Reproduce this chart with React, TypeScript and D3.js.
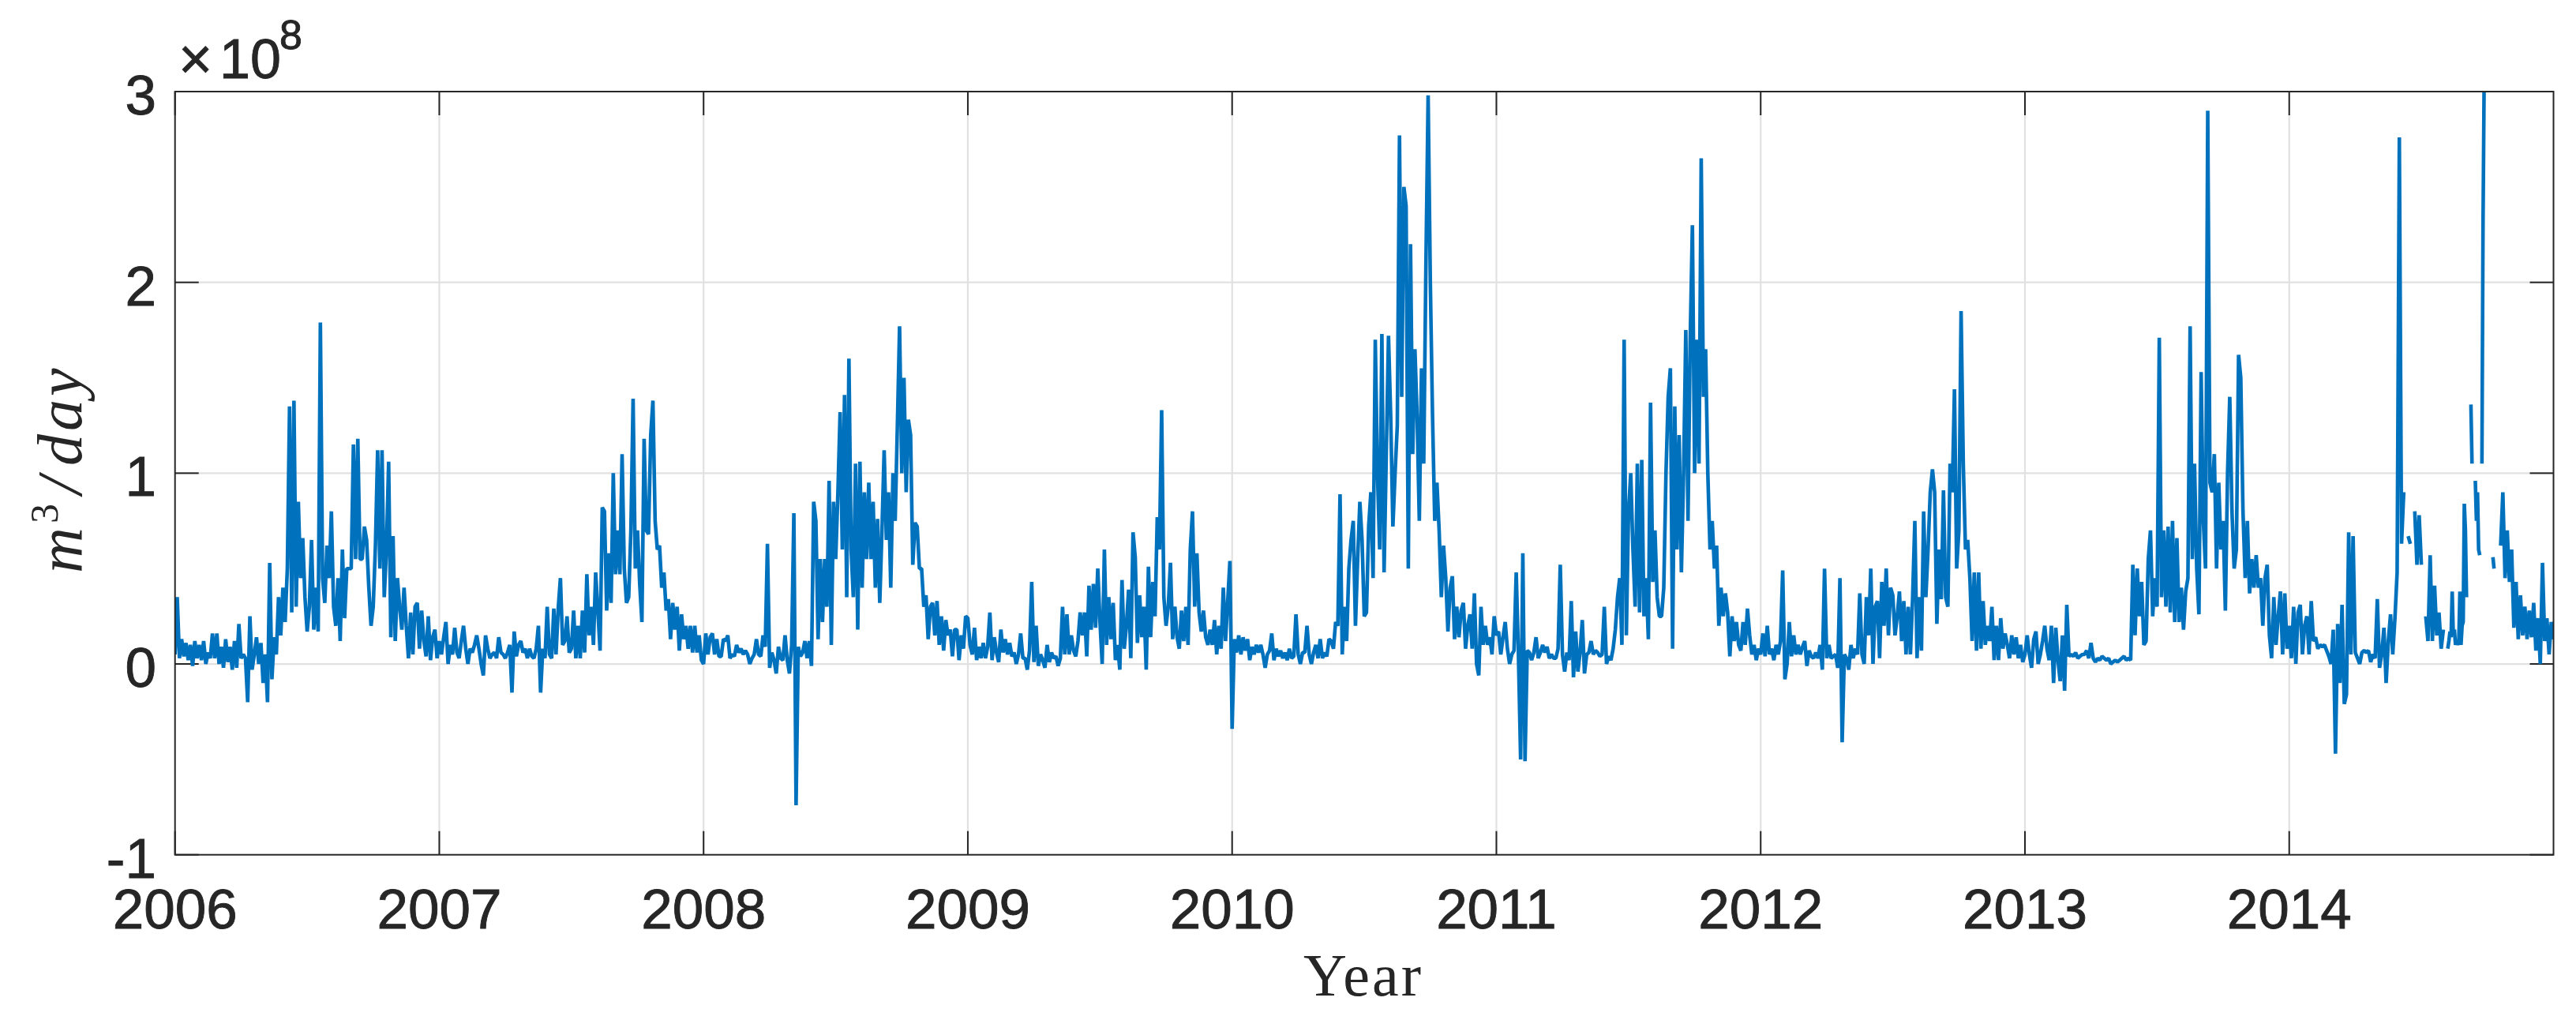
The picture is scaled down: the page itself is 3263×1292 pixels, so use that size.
import React from "react";
import * as d3 from "d3";

const yearTicks = [2006, 2007, 2008, 2009, 2010, 2011, 2012, 2013, 2014];
const valueTicks = [-1, 0, 1, 2, 3];

// Flow in units of 1e6 m^3/day at ~3 day spacing. null = gap.
const flow2006 = [
  5,35,3,13,4,11,2,10,-1,12,
  3,10,2,12,0,6,3,16,3,16,
  0,9,-2,13,1,9,-3,12,-2,21,
  3,5,3,-20,25,-3,5,14,0,11,
  -10,5,-20,53,-8,14,5,35,15,40,
  22,50,135,27,138,30,85,45,66,35,
  17,30,65,18,40,17,179,45,32,62,
  45,80,30,20,45,12,60,24,50,50,
  50,115,55,118,55,55,72,65,40,20,
  30,62,112,50,112,35,60,106,14,67,
  12,45,30,18,40,20,3,27,5,30,
  32,8,28,12,4,25,2,14,18,3,
];
const flow2007 = [
  12,5,14,22,0,10,5,19,6,3,
  12,20,8,0,8,6,10,15,8,0,
  -6,15,8,3,5,6,3,14,6,5,
  3,6,10,-15,17,4,10,12,6,8,
  3,8,4,3,8,20,-15,8,3,30,
  5,3,29,5,29,45,10,12,25,6,
  8,28,3,20,3,28,6,47,15,30,
  10,48,28,7,82,80,28,58,32,100,
  47,70,47,110,50,32,35,70,139,50,
  70,42,22,118,70,68,120,138,75,60,
  62,40,48,28,34,13,32,18,30,7,
  26,13,20,8,20,6,20,6,15,2,
];
const flow2008 = [
  0,16,5,14,16,5,13,4,4,13,
  12,15,3,5,4,10,6,8,5,7,
  5,0,3,5,13,5,4,15,9,63,
  -2,6,2,-5,9,3,2,15,2,-5,
  10,79,-74,9,4,6,12,3,12,-1,
  85,75,13,55,22,55,30,96,10,85,
  55,90,132,60,141,35,160,60,35,105,
  18,106,40,90,55,95,55,85,40,76,
  32,70,112,65,90,40,100,75,125,177,
  100,150,90,128,120,52,74,72,50,50,
  30,36,13,30,32,15,33,10,25,7,
  23,15,18,4,18,18,2,15,8,25,
];
const flow2009 = [
  24,10,5,19,2,9,3,11,3,9,
  27,2,14,6,1,18,6,13,5,11,
  4,6,0,5,16,3,3,-3,7,43,
  1,20,-1,5,2,-2,10,1,6,3,
  4,-1,3,30,5,26,5,15,7,4,
  12,27,15,27,4,41,18,42,19,50,
  22,0,60,10,35,13,32,2,10,-3,
  44,8,20,39,3,69,56,11,36,14,
  30,-3,51,14,43,25,77,60,133,35,
  20,30,53,13,30,14,8,28,12,30,
  10,60,80,30,58,27,17,28,14,10,
  18,10,23,5,20,8,40,12,33,54,
];
const flow2010 = [
  -34,13,6,15,5,14,7,13,2,9,
  5,10,6,10,5,-2,5,7,16,2,
  8,4,7,3,6,2,8,3,4,26,
  5,0,6,6,20,5,0,6,10,3,
  13,3,6,4,13,12,8,22,20,89,
  5,30,12,50,65,75,20,55,85,65,
  25,27,72,90,45,170,100,60,173,48,
  110,172,130,72,100,125,277,140,250,240,
  50,220,110,165,130,75,155,105,210,298,
  200,130,75,95,70,35,62,45,17,40,
  46,13,30,14,28,32,8,20,26,8,
  37,0,-6,30,10,20,10,14,5,25,
];
const flow2011 = [
  15,17,5,14,22,8,0,5,7,48,
  5,-50,58,-51,7,6,2,6,14,3,
  6,10,6,9,3,5,3,3,8,52,
  5,-4,6,2,33,-7,17,-4,6,23,
  -5,5,6,12,5,7,6,4,5,30,
  0,4,2,8,18,35,45,10,170,15,
  80,100,60,30,105,27,107,25,45,13,
  137,43,70,35,25,25,40,100,140,155,
  8,135,60,120,48,100,175,75,170,230,
  100,170,105,265,140,165,100,60,75,50,
  62,20,40,25,37,27,4,25,12,22,
  10,7,22,10,29,15,5,10,2,8,
];
const flow2012 = [
  5,16,4,20,5,8,2,10,5,12,
  49,-8,0,22,4,15,5,10,5,9,
  12,-1,7,4,3,6,3,10,-3,50,
  3,10,3,4,5,-2,45,-41,5,3,
  -3,10,3,8,5,37,5,0,35,15,
  50,0,30,33,3,43,20,50,15,40,
  36,15,25,38,12,33,5,30,5,35,
  75,3,35,7,80,35,60,90,102,90,
  21,60,34,91,35,30,105,90,144,50,
  70,185,105,60,65,45,12,48,7,48,
  8,33,10,20,12,30,2,20,2,24,
  8,16,10,3,15,5,14,3,10,1,
];
const flow2013 = [
  5,15,5,-2,13,17,0,5,12,20,
  8,2,20,-10,19,2,-9,15,-14,31,
  4,5,4,6,3,4,5,5,7,3,
  11,3,1,3,2,4,3,2,3,0,
  1,2,1,2,3,4,2,3,2,52,
  15,50,25,43,10,12,55,70,25,45,
  30,171,35,70,30,72,27,75,22,66,
  22,40,18,38,45,177,55,105,50,26,
  153,75,50,290,95,90,110,50,95,60,
  75,28,100,140,80,50,60,162,150,80,
  45,75,37,55,40,57,40,45,20,45,
  52,15,3,35,10,25,38,5,37,8,
];
const flow2014Early = [
  20,3,30,0,27,31,5,20,25,5,
  33,12,14,8,10,9,10,7,4,0,
  18,-47,21,-10,31,-21,-16,69,5,67,
  6,3,0,6,7,6,7,1,5,3,
  34,-2,5,19,-10,12,26,5,24,48,
  276,63,90,null,67,63,null,80,52,78,
  52,null,25,12,57,12,41,15,27,8,
  18,null,
];
const flow2014Mid = [
  8,12,17,14,38,15,18,10,12,10,
  12,38,10,20,22,84,70,35,null,null,
  null,136,105,null,null,96,75,90,60,57,
  null,105,230,305,null,null,null,null,null,null,
  null,56,50,null,null,null,null,null,
];
const flow2014Late = [
  62,90,45,70,43,60,19,43,13,36,
  15,30,13,28,14,32,7,24,0,53,
  12,24,5,22,13,
];

const chunks: [number, number, (number | null)[]][] = [
  [2006, 120, flow2006],
  [2007, 120, flow2007],
  [2008, 120, flow2008],
  [2009, 120, flow2009],
  [2010, 120, flow2010],
  [2011, 120, flow2011],
  [2012, 120, flow2012],
  [2013, 120, flow2013],
  [2014, 120, flow2014Early],
  [2014.6, 240, flow2014Mid],
  [2014.8, 120, flow2014Late],
];

type Pt = { t: number; v: number | null };
const points: Pt[] = chunks.flatMap(([start, den, vals]) =>
  vals.map((v, i) => ({ t: start + i / den, v }))
);

const W = 3263;
const H = 1292;
const L = 221.7;
const R = 3234.5;
const T = 116;
const B = 1082.7;
const INK = "#262626";
const GRID = "#e1e1e1";
const BLUE = "#0072BD";
const SANS = "'Liberation Sans', Arial, sans-serif";
const SERIF = "'Liberation Serif', 'Times New Roman', serif";

export default function App() {
  const x = d3.scaleLinear().domain([2006, 2015]).range([L, R]);
  const y = d3.scaleLinear().domain([-1, 3]).range([B, T]);
  const line = d3
    .line<Pt>()
    .defined((d) => d.v !== null)
    .x((d) => x(d.t))
    .y((d) => y((d.v as number) / 100));
  const tick = 30;

  return (
    <svg
      width={W}
      height={H}
      viewBox={`0 0 ${W} ${H}`}
      style={{ position: "fixed", left: 0, top: 0, display: "block", background: "#fff" }}
    >
      <defs>
        <clipPath id="plot">
          <rect x={L} y={T} width={R - L} height={B - T} />
        </clipPath>
      </defs>

      {yearTicks.slice(1).map((d) => (
        <line key={d} x1={x(d)} x2={x(d)} y1={T} y2={B} stroke={GRID} strokeWidth={2.2} />
      ))}
      {valueTicks.slice(1, -1).map((d) => (
        <line key={d} x1={L} x2={R} y1={y(d)} y2={y(d)} stroke={GRID} strokeWidth={2.2} />
      ))}

      {yearTicks.map((d) => (
        <g key={d} stroke={INK} strokeWidth={2}>
          <line x1={x(d)} x2={x(d)} y1={B} y2={B - tick} />
          <line x1={x(d)} x2={x(d)} y1={T} y2={T + tick} />
        </g>
      ))}
      {valueTicks.map((d) => (
        <g key={d} stroke={INK} strokeWidth={2}>
          <line x1={L} x2={L + tick} y1={y(d)} y2={y(d)} />
          <line x1={R} x2={R - tick} y1={y(d)} y2={y(d)} />
        </g>
      ))}

      <g clipPath="url(#plot)">
        <path
          d={line(points) ?? ""}
          fill="none"
          stroke={BLUE}
          strokeWidth={4.6}
          strokeLinejoin="bevel"
          strokeLinecap="butt"
        />
      </g>

      <rect x={L} y={T} width={R - L} height={B - T} fill="none" stroke={INK} strokeWidth={2} />

      <g stroke={INK} strokeWidth={0.9} fill={INK} fontFamily={SANS}>
        {yearTicks.map((d) => (
          <text key={d} x={x(d)} y={1176} textAnchor="middle" fontSize={71}>
            {d}
          </text>
        ))}
        {valueTicks.map((d) => (
          <text key={d} x={198} y={y(d) + 29} textAnchor="end" fontSize={71}>
            {d}
          </text>
        ))}
        <text x={226} y={100} fontSize={74}>×</text>
        <text x={278} y={99} fontSize={70}>10</text>
        <text x={354} y={62} fontSize={52}>8</text>
      </g>

      <g transform="translate(103,600) rotate(-90)" fontFamily={SERIF} fill={INK}>
        <text x={-126} y={0} fontSize={80} fontStyle="italic">m</text>
        <text x={-63} y={-30} fontSize={50}>3</text>
        <text x={-26} y={0} fontSize={80} fontStyle="italic">/</text>
        <text x={10} y={0} fontSize={80} fontStyle="italic" letterSpacing={4}>day</text>
      </g>

      <text x={1727} y={1261} textAnchor="middle" fontFamily={SERIF} fontSize={76} letterSpacing={3} fill={INK}>
        Year
      </text>
    </svg>
  );
}
